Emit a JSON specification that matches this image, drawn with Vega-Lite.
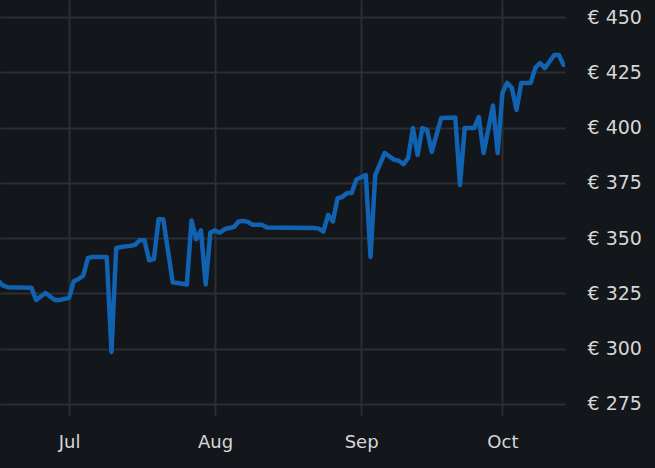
{
  "$schema": "https://vega.github.io/schema/vega-lite/v6.json",
  "autosize": {"type": "none"},
  "padding": {"left": 0, "top": 0, "right": 90, "bottom": 53},
  "width": 565,
  "height": 415,
  "background": "#13161b",
  "config": {
    "view": {"stroke": null},
    "font": "DejaVu Sans"
  },
  "data": {
    "values": [
      {"date": "2023-06-16", "price": 330.5},
      {"date": "2023-06-17", "price": 328.5},
      {"date": "2023-06-18", "price": 327.8},
      {"date": "2023-06-23", "price": 327.6},
      {"date": "2023-06-24", "price": 322.0},
      {"date": "2023-06-26", "price": 325.2},
      {"date": "2023-06-28", "price": 322.0},
      {"date": "2023-06-29", "price": 322.0},
      {"date": "2023-06-30", "price": 322.5},
      {"date": "2023-07-01", "price": 323.0},
      {"date": "2023-07-02", "price": 330.5},
      {"date": "2023-07-03", "price": 331.5},
      {"date": "2023-07-04", "price": 333.0},
      {"date": "2023-07-05", "price": 341.0},
      {"date": "2023-07-06", "price": 341.5},
      {"date": "2023-07-09", "price": 341.5},
      {"date": "2023-07-10", "price": 298.5},
      {"date": "2023-07-11", "price": 345.5},
      {"date": "2023-07-12", "price": 346.0},
      {"date": "2023-07-14", "price": 346.5},
      {"date": "2023-07-15", "price": 347.0},
      {"date": "2023-07-16", "price": 349.0},
      {"date": "2023-07-17", "price": 349.0},
      {"date": "2023-07-18", "price": 340.0},
      {"date": "2023-07-19", "price": 340.5},
      {"date": "2023-07-20", "price": 358.5},
      {"date": "2023-07-21", "price": 358.5},
      {"date": "2023-07-23", "price": 330.0},
      {"date": "2023-07-26", "price": 329.0},
      {"date": "2023-07-27", "price": 358.0},
      {"date": "2023-07-28", "price": 349.5},
      {"date": "2023-07-29", "price": 353.5},
      {"date": "2023-07-30", "price": 329.0},
      {"date": "2023-07-31", "price": 352.5},
      {"date": "2023-08-01", "price": 353.5},
      {"date": "2023-08-02", "price": 352.4},
      {"date": "2023-08-03", "price": 354.0},
      {"date": "2023-08-04", "price": 354.6},
      {"date": "2023-08-05", "price": 355.0},
      {"date": "2023-08-06", "price": 357.5},
      {"date": "2023-08-07", "price": 357.8},
      {"date": "2023-08-08", "price": 357.3},
      {"date": "2023-08-09", "price": 356.0},
      {"date": "2023-08-11", "price": 356.0},
      {"date": "2023-08-12", "price": 354.8},
      {"date": "2023-08-22", "price": 354.6},
      {"date": "2023-08-23", "price": 354.3},
      {"date": "2023-08-24", "price": 353.0},
      {"date": "2023-08-25", "price": 360.5},
      {"date": "2023-08-26", "price": 357.5},
      {"date": "2023-08-27", "price": 368.0},
      {"date": "2023-08-28", "price": 368.6},
      {"date": "2023-08-29", "price": 370.4},
      {"date": "2023-08-30", "price": 370.4},
      {"date": "2023-08-31", "price": 376.5},
      {"date": "2023-09-01", "price": 377.5},
      {"date": "2023-09-02", "price": 378.5},
      {"date": "2023-09-03", "price": 341.5},
      {"date": "2023-09-04", "price": 378.5},
      {"date": "2023-09-06", "price": 388.5},
      {"date": "2023-09-07", "price": 387.0},
      {"date": "2023-09-08", "price": 385.5},
      {"date": "2023-09-09", "price": 385.0},
      {"date": "2023-09-10", "price": 383.5},
      {"date": "2023-09-11", "price": 386.3},
      {"date": "2023-09-12", "price": 399.8},
      {"date": "2023-09-13", "price": 387.6},
      {"date": "2023-09-14", "price": 399.8},
      {"date": "2023-09-15", "price": 399.0},
      {"date": "2023-09-16", "price": 389.0},
      {"date": "2023-09-18", "price": 404.3},
      {"date": "2023-09-21", "price": 404.6},
      {"date": "2023-09-22", "price": 374.0},
      {"date": "2023-09-23", "price": 399.8},
      {"date": "2023-09-25", "price": 399.8},
      {"date": "2023-09-26", "price": 404.8},
      {"date": "2023-09-27", "price": 388.5},
      {"date": "2023-09-29", "price": 410.0},
      {"date": "2023-09-30", "price": 388.5},
      {"date": "2023-10-01", "price": 415.6},
      {"date": "2023-10-02", "price": 420.2},
      {"date": "2023-10-03", "price": 418.0},
      {"date": "2023-10-04", "price": 408.0},
      {"date": "2023-10-05", "price": 420.2},
      {"date": "2023-10-07", "price": 420.2},
      {"date": "2023-10-08", "price": 427.0},
      {"date": "2023-10-09", "price": 429.2},
      {"date": "2023-10-10", "price": 426.9},
      {"date": "2023-10-12", "price": 432.8},
      {"date": "2023-10-13", "price": 432.8},
      {"date": "2023-10-14", "price": 428.3}
    ]
  },
  "mark": {
    "type": "line",
    "color": "#1162b0",
    "strokeWidth": 4.5,
    "strokeJoin": "round",
    "strokeCap": "round",
    "clip": true
  },
  "encoding": {
    "x": {
      "field": "date",
      "type": "temporal",
      "title": null,
      "scale": {
        "type": "utc",
        "domain": [
          {"year": 2023, "month": 6, "date": 16, "hours": 8, "utc": true},
          {"year": 2023, "month": 10, "date": 14, "hours": 7, "utc": true}
        ]
      },
      "axis": {
        "labelExpr": "utcFormat(datum.value, '%b')",
        "tickCount": {"interval": "month", "step": 1},
        "domain": false,
        "ticks": false,
        "grid": true,
        "gridColor": "#2a2e35",
        "gridWidth": 2,
        "labelColor": "#d6d6d6",
        "labelFontSize": 18,
        "labelPadding": 18,
        "labelAlign": "center"
      }
    },
    "y": {
      "field": "price",
      "type": "quantitative",
      "title": null,
      "scale": {"domain": [270, 457.7], "nice": false, "zero": false},
      "axis": {
        "orient": "right",
        "values": [275, 300, 325, 350, 375, 400, 425, 450],
        "labelExpr": "'€ ' + datum.value",
        "domain": false,
        "ticks": false,
        "grid": true,
        "gridColor": "#2a2e35",
        "gridWidth": 2,
        "labelColor": "#d6d6d6",
        "labelFontSize": 19,
        "labelPadding": 22,
        "labelAlign": "left"
      }
    }
  }
}
